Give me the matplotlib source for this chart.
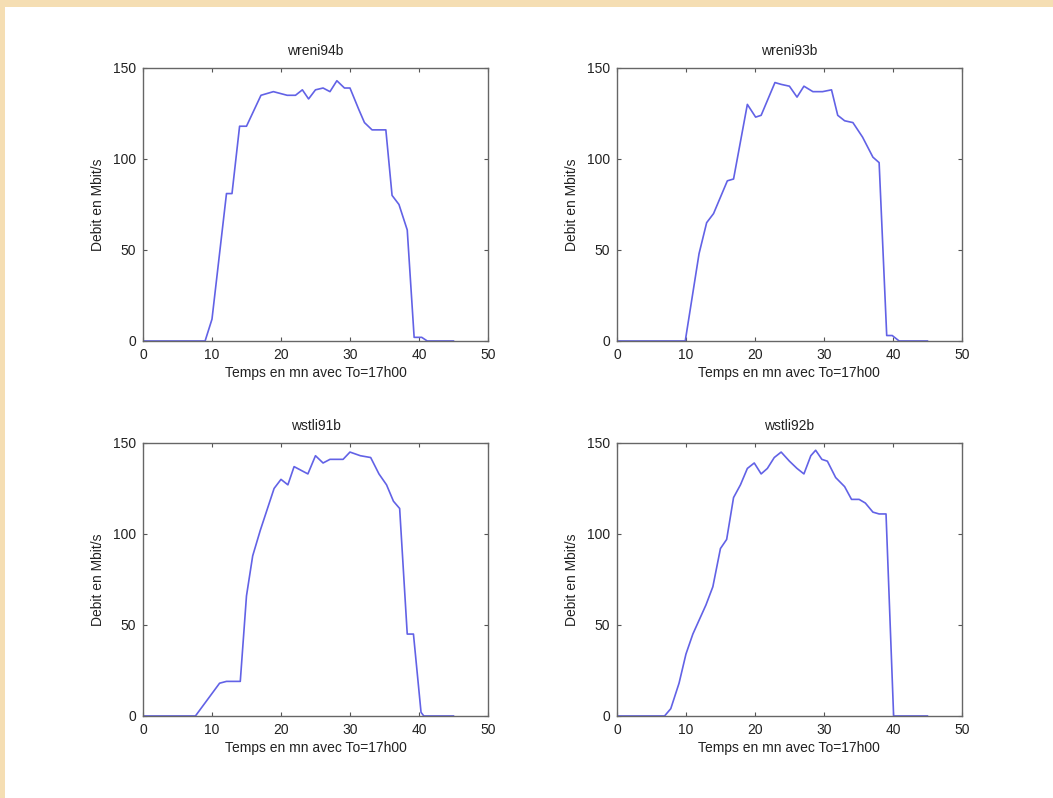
import matplotlib
matplotlib.use("Agg")
import matplotlib.pyplot as plt
from matplotlib.patches import Rectangle

plt.rcParams['font.family'] = ['Liberation Sans', 'DejaVu Sans']

# Debit data (minutes, Mbit/s)
t_94b = [0, 9.0, 10.0, 12.1, 12.9, 14.0, 15.0, 17.1, 18.9, 20.9, 22.1, 23.1, 24.0, 25.0, 26.1,
         27.1, 28.1, 29.2, 30.0, 31.3, 32.1, 33.2, 34.2, 35.2, 36.1, 37.1, 38.3, 39.3, 40.4, 41.2, 45]
d_94b = [0, 0, 12, 81, 81, 118, 118, 135, 137, 135, 135, 138, 133, 138, 139,
         137, 143, 139, 139, 127, 120, 116, 116, 116, 80, 75, 61, 2, 2, 0, 0]

t_93b = [0, 9.9, 11.9, 13.0, 14.0, 16.0, 16.9, 18.9, 20.1, 20.9, 22.9, 23.8, 25.0, 26.1, 27.1,
         28.4, 29.8, 31.1, 32.0, 33.0, 34.2, 35.6, 37.1, 38.0, 39.1, 39.9, 40.9, 45]
d_93b = [0, 0, 48, 65, 70, 88, 89, 130, 123, 124, 142, 141, 140, 134, 140,
         137, 137, 138, 124, 121, 120, 112, 101, 98, 3, 3, 0, 0]

t_91b = [0, 7.6, 11.1, 12.1, 14.1, 15.0, 15.9, 17.0, 19.0, 20.0, 21.0, 21.9, 22.9, 23.9, 25.0,
         26.1, 27.1, 29.0, 30.0, 31.5, 33.0, 34.2, 35.3, 36.3, 37.2, 38.3, 39.2, 40.3, 40.7, 45]
d_91b = [0, 0, 18, 19, 19, 66, 88, 102, 125, 130, 127, 137, 135, 133, 143,
         139, 141, 141, 145, 143, 142, 133, 127, 118, 114, 45, 45, 2, 0, 0]

t_92b = [0, 6.9, 7.8, 9.0, 10.0, 11.0, 12.9, 13.9, 15.0, 15.9, 16.9, 17.9, 18.9, 19.9, 20.9,
         21.8, 22.8, 23.8, 25.0, 26.1, 27.1, 28.1, 28.8, 29.7, 30.5, 31.7, 33.0, 34.0, 35.1,
         36.0, 37.1, 38.0, 39.0, 40.1, 45]
d_92b = [0, 0, 4, 18, 34, 45, 61, 71, 92, 97, 120, 127, 136, 139, 133,
         136, 142, 145, 140, 136, 133, 143, 146, 141, 140, 131, 126, 119, 119,
         117, 112, 111, 111, 0, 0]

names = ["wreni94b", "wreni93b", "wstli91b", "wstli92b"]
times = [t_94b, t_93b, t_91b, t_92b]
debits = [d_94b, d_93b, d_91b, d_92b]

fig = plt.figure(figsize=(10.53, 7.98), dpi=100)

# wheat border on top and left
fig.add_artist(Rectangle((0, 1 - 7 / 798), 1, 7 / 798, transform=fig.transFigure,
                         facecolor='#f5deb3', edgecolor='none'))
fig.add_artist(Rectangle((0, 0), 5 / 1053, 1, transform=fig.transFigure,
                         facecolor='#f5deb3', edgecolor='none'))

lefts = [0.1358, 0.5859, 0.1358, 0.5859]
bottoms = [0.5727, 0.5727, 0.1028, 0.1028]
w, h = 0.3276, 0.3421

for i in range(4):
    ax = fig.add_axes([lefts[i], bottoms[i], w, h])
    ax.plot(times[i], debits[i], color='#6262e6', linewidth=1.2)
    ax.set_xlim(0, 50)
    ax.set_ylim(0, 150)
    ax.set_xticks([0, 10, 20, 30, 40, 50])
    ax.set_yticks([0, 50, 100, 150])
    ax.tick_params(direction='in', top=True, right=True, length=3, width=0.8,
                   labelsize=10, colors='#555555', labelcolor='#222222', pad=5)
    for s in ax.spines.values():
        s.set_color('#666666')
        s.set_linewidth(1.0)
    ax.set_title(names[i], fontsize=10, color='#222222', pad=9)
    ax.set_xlabel("Temps en mn avec To=17h00", fontsize=10, color='#222222', labelpad=3)
    ax.set_ylabel("Debit en Mbit/s", fontsize=10, color='#222222', labelpad=6)

fig.savefig("out.png", dpi=100, facecolor='white')
